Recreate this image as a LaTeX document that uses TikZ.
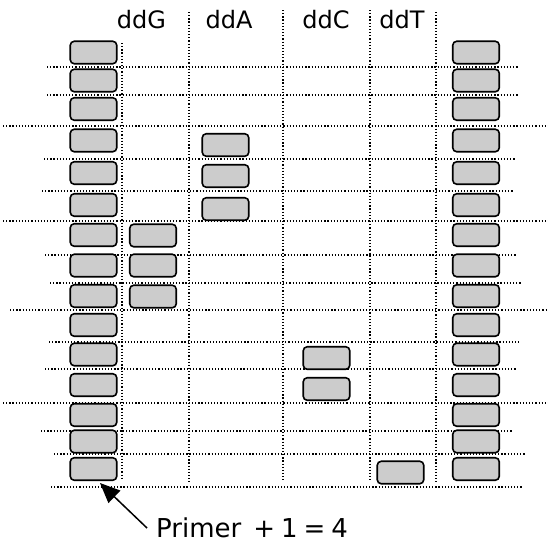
\documentclass[tikz,border=0pt]{standalone}
\usepackage{fontspec}
\setmainfont{DejaVu Sans}
\usetikzlibrary{arrows.meta}
\tikzset{
  cell/.style={draw=black, fill=black!20, line width=1.6pt, rounded corners=4pt,
    minimum width=46.5pt, minimum height=22.5pt, inner sep=0pt, outer sep=0pt},
  grid/.style={line width=1.2pt, dash pattern=on 1.2pt off 1.95pt, black},
  lab/.style={font=\fontsize{24}{28}\selectfont, inner sep=0pt, anchor=base},
  arr/.style={line width=1.5pt, -{Triangle[length=20pt,width=17pt]}}
}
\begin{document}
\begin{tikzpicture}[x=1pt,y=-1pt]
\useasboundingbox (0,0) rectangle (548,544);
% horizontal dotted lines
\foreach \y/\a/\b in {67/47/518, 95/47/518, 126/3/548, 159/44/515, 191/42/513,
  221/3/548, 255/45/517, 283/50/521, 310/10/548, 342/49/519, 369/45/516,
  403/3/548, 431/41/512, 454/54/525, 487/51/522}
  \draw[grid] (\a,\y) -- (\b,\y);
% vertical dotted lines
\draw[grid] (122,43) -- (122,480);
\draw[grid] (189,12) -- (189,482);
\draw[grid] (283,10) -- (283,480);
\draw[grid] (370,10) -- (370,480);
\draw[grid] (436,12) -- (436,482);
% column labels
\node[lab] (hG) at (141.5,28.5) {ddG};
\node[lab] (hA) at (229,28.5) {ddA};
\node[lab] (hC) at (326,28.5) {ddC};
\node[lab] (hT) at (402,28.5) {ddT};
% left and right columns
\foreach \i/\y in {1/52.5, 2/80.5, 3/109, 4/140.5, 5/173, 6/205, 7/235, 8/265.5,
  9/296, 10/325, 11/354.5, 12/385, 13/415, 14/441.5, 15/469} {
  \node[cell] (l\i) at (93.5,\y) {};
  \node[cell] (r\i) at (476,\y) {};
}
% ddA
\node[cell] (a1) at (225.5,145) {};
\node[cell] (a2) at (225.5,176) {};
\node[cell] (a3) at (225.5,209) {};
% ddG
\node[cell] (g1) at (153,235.5) {};
\node[cell] (g2) at (153,265.5) {};
\node[cell] (g3) at (153,296.5) {};
% ddC
\node[cell] (c1) at (326.5,358) {};
\node[cell] (c2) at (326.5,389) {};
% ddT
\node[cell] (t1) at (400.5,472.5) {};
% annotation
\node[font=\fontsize{26}{30}\selectfont, inner sep=0pt, anchor=base west] (note) at (156,537)
  {Primer\hspace{12pt}+\hspace{6pt}1\hspace{6pt}=\hspace{6pt}4};
\coordinate (atail) at (147,528);
\coordinate (atip) at (100,483);
\draw[arr] (atail) -- (atip);
\end{tikzpicture}
\end{document}
